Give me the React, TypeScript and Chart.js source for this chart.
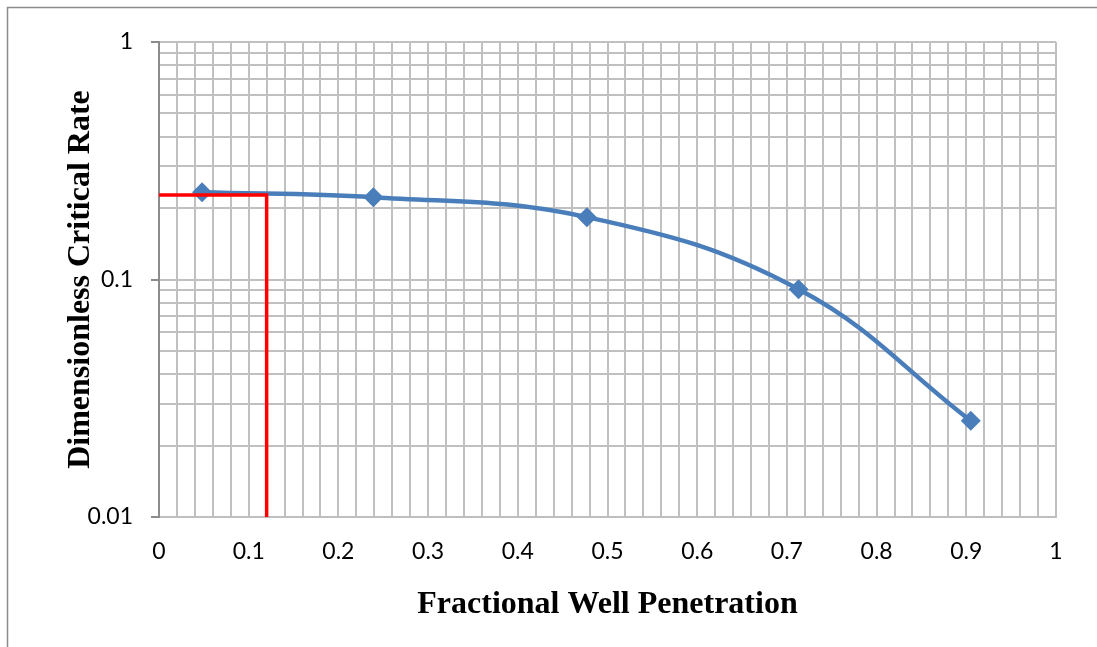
import React, { useEffect, useRef } from "react";
import { Chart, registerables } from "chart.js";

Chart.register(...registerables);

const penetration = [0.048, 0.239, 0.477, 0.713, 0.905];
const criticalRate = [0.233, 0.222, 0.183, 0.091, 0.0254];

const markerX = [0, 0.12, 0.12];
const markerY = [0.227, 0.227, 0.01];

const majorYLabels = [1, 0.1, 0.01];

const borderPlugin = {
  id: "outerBorder",
  beforeDraw(chart: any) {
    const ctx = chart.ctx;
    ctx.save();
    ctx.strokeStyle = "#8c8c8c";
    ctx.lineWidth = 1.5;
    ctx.strokeRect(7.5, 7.5, 1200, 1200);
    ctx.restore();
  },
};

export default function App() {
  const ref = useRef<HTMLCanvasElement>(null);
  useEffect(() => {
    if (!ref.current) return;
    const chart = new Chart(ref.current, {
      type: "scatter",
      data: {
        datasets: [
          {
            label: "Read-off",
            data: markerX.map((x, i) => ({ x, y: markerY[i] })),
            showLine: true,
            borderColor: "#ff0000",
            borderWidth: 3.5,
            pointRadius: 0,
            tension: 0,
            order: 0,
          },
          {
            label: "Critical rate",
            data: penetration.map((x, i) => ({ x, y: criticalRate[i] })),
            showLine: true,
            borderColor: "#4a7ebb",
            backgroundColor: "#4a7ebb",
            borderWidth: 4.5,
            pointStyle: "rectRot",
            pointRadius: 10,
            pointBackgroundColor: "#4a7ebb",
            pointBorderColor: "#4a7ebb",
            pointBorderWidth: 0,
            tension: 0.4,
            order: 1,
          },
        ],
      },
      options: {
        animation: false,
        responsive: false,
        maintainAspectRatio: false,
        layout: { padding: { top: 42, right: 41, left: 0, bottom: 0 } },
        plugins: {
          legend: { display: false },
          tooltip: { enabled: false },
        },
        scales: {
          x: {
            type: "linear",
            min: 0,
            max: 1,
            afterFit: (s: any) => {
              s.height = 130;
            },
            ticks: {
              stepSize: 0.02,
              autoSkip: false,
              maxRotation: 0,
              padding: 21,
              color: "#000",
              font: { family: "Lato", size: 23 },
              callback: (v: any, i: number) => (i % 5 === 0 ? String(Math.round(v * 10) / 10) : ""),
            },
            grid: {
              color: "#c0c0c0",
              lineWidth: 2,
              tickLength: 0,
              drawTicks: false,
            },
            border: { color: "#bfbfbf", width: 2 },
            title: {
              display: true,
              text: "Fractional Well Penetration",
              color: "#000",
              font: { family: "Liberation Serif", size: 32, weight: "bold" },
              padding: { top: 0, bottom: 23 },
            },
          },
          y: {
            type: "logarithmic",
            min: 0.01,
            max: 1,
            afterFit: (s: any) => {
              s.width = 159;
            },
            ticks: {
              autoSkip: false,
              padding: 18,
              color: "#000",
              font: { family: "Lato", size: 23 },
              callback: (v: any) => {
                const m = majorYLabels.find((t) => Math.abs(t - v) < 1e-9);
                return m !== undefined ? String(m) : "";
              },
            },
            afterBuildTicks: (scale: any) => {
              const t: any[] = [];
              for (let d = -2; d < 0; d++) {
                for (let k = 1; k < 10; k++) {
                  t.push({ value: k * Math.pow(10, d), major: k === 1 });
                }
              }
              t.push({ value: 1, major: true });
              scale.ticks = t;
            },
            grid: {
              color: "#c0c0c0",
              lineWidth: 2,
              tickLength: 8,
              tickColor: (ctx: any) => {
                const v = ctx.tick ? ctx.tick.value : 0;
                return majorYLabels.some((t) => Math.abs(t - v) < 1e-9) ? "#8c8c8c" : "rgba(0,0,0,0)";
              },
            },
            border: { color: "#8c8c8c", width: 2 },
            title: {
              display: true,
              text: "Dimensionless Critical Rate",
              color: "#000",
              font: { family: "Liberation Serif", size: 32, weight: "bold" },
              padding: { top: 62, bottom: 0 },
            },
          },
        },
      },
      plugins: [borderPlugin],
    } as any);
    return () => chart.destroy();
  }, []);

  return (
    <div style={{ position: "fixed", left: 0, top: 0, width: 1097, height: 647, background: "#fff" }}>
      <canvas ref={ref} width={1097} height={647} style={{ width: 1097, height: 647 }} />
    </div>
  );
}
